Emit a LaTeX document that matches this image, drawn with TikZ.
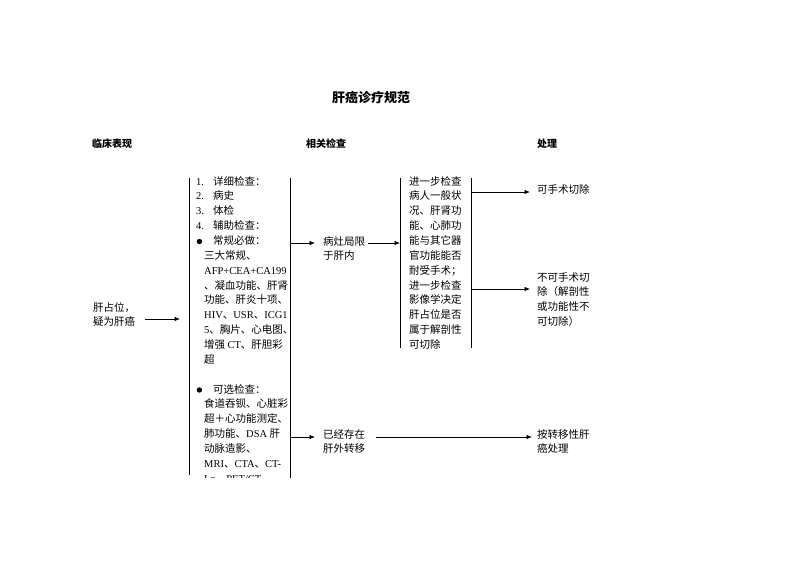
\documentclass[tikz,border=0pt]{standalone}
\usepackage{fontspec}
\setmainfont{Noto Sans CJK SC}
\newfontfamily\tnr{Liberation Serif}
\usetikzlibrary{arrows.meta}
\newcommand{\lat}[1]{{\tnr #1}}
\newcommand{\itemno}[1]{\makebox[17pt][l]{\tnr #1}}
\newcommand{\dotmark}{\makebox[17pt][l]{\hspace{0.5pt}\raisebox{0.3pt}{\tikz\fill (0,0) circle (2.7pt);}}}
\newcommand{\sub}{\hspace*{8pt}}

\begin{document}
\begin{tikzpicture}[x=1pt,y=-1pt,
  txt/.style={anchor=north west,inner sep=0pt,align=left,font=\fontsize{10.5}{14.85}\selectfont},
  head/.style={inner sep=0pt,font=\fontsize{10}{12}\selectfont\bfseries},
  side/.style={line width=0.8pt},
  arr/.style={line width=0.7pt,-{Latex[length=5.5pt,width=4.5pt]}}]
\useasboundingbox (0,0) rectangle (800,566);

\node[inner sep=0pt,font=\fontsize{13}{15}\selectfont\bfseries] (title) at (371,97) {肝癌诊疗规范};
\node[head] (h1) at (112,144) {临床表现};
\node[head] (h2) at (326,144) {相关检查};
\node[head] (h3) at (547,144) {处理};

% clinical
\node[txt] (sym) at (93,302) {肝占位，\\疑为肝癌};

% examinations
\begin{scope}
\clip (180,170) rectangle (300,477);
\node[txt] (exam) at (196,176) {\itemno{1.}详细检查：\\
\itemno{2.}病史\\
\itemno{3.}体检\\
\itemno{4.}辅助检查：\\
\dotmark 常规必做：\\
\sub 三大常规、\\
\sub\lat{AFP+CEA+CA199}\\
\sub 、凝血功能、肝肾\\
\sub 功能、肝炎十项、\\
\sub\lat{HIV}、\lat{USR}、\lat{ICG1}\\
\sub\lat{5}、胸片、心电图、\\
\sub 增强 \lat{CT}、肝胆彩\\
\sub 超\\
\strut\\
\dotmark 可选检查：\\
\sub 食道吞钡、心脏彩\\
\sub 超＋心功能测定、\\
\sub 肺功能、\lat{DSA} 肝\\
\sub 动脉造影、\\
\sub\lat{MRI}、\lat{CTA}、\lat{CT-}\\
\sub\lat{Lp}、\lat{PET/CT}};
\end{scope}
\draw[side] (189,178) -- (189,475);
\draw[side] (290,178) -- (290,478);

\node[txt] (local) at (323,236) {病灶局限\\于肝内};
\node[txt] (meta) at (323,429) {已经存在\\肝外转移};

\node[txt] (further) at (409,176) {进一步检查\\病人一般状\\况、肝肾功\\能、心肺功\\能与其它器\\官功能能否\\耐受手术；\\进一步检查\\影像学决定\\肝占位是否\\属于解剖性\\可切除};
\draw[side] (400,178) -- (400,348);
\draw[side] (471,178) -- (471,348);

% treatment
\node[txt] (resect) at (537,184) {可手术切除};
\node[txt] (noresect) at (537,272) {不可手术切\\除（解剖性\\或功能性不\\可切除）};
\node[txt] (metatreat) at (537,429) {按转移性肝\\癌处理};

% connector ends
\coordinate (symout) at (145,319);
\coordinate (examin) at (180,319);
\coordinate (examout1) at (290,243);
\coordinate (localin) at (315,243);
\coordinate (localout) at (368,243);
\coordinate (furtherin) at (400,243);
\coordinate (examout2) at (290,437);
\coordinate (metain) at (315,437);
\coordinate (metaout) at (376,437);
\coordinate (metatreatin) at (532,437);
\coordinate (furtherout1) at (471,192);
\coordinate (resectin) at (530,192);
\coordinate (furtherout2) at (471,289);
\coordinate (noresectin) at (530,289);

\draw[arr] (symout) -- (examin);
\draw[arr] (examout1) -- (localin);
\draw[arr] (localout) -- (furtherin);
\draw[arr] (examout2) -- (metain);
\draw[arr] (metaout) -- (metatreatin);
\draw[arr] (furtherout1) -- (resectin);
\draw[arr] (furtherout2) -- (noresectin);

\end{tikzpicture}
\end{document}
